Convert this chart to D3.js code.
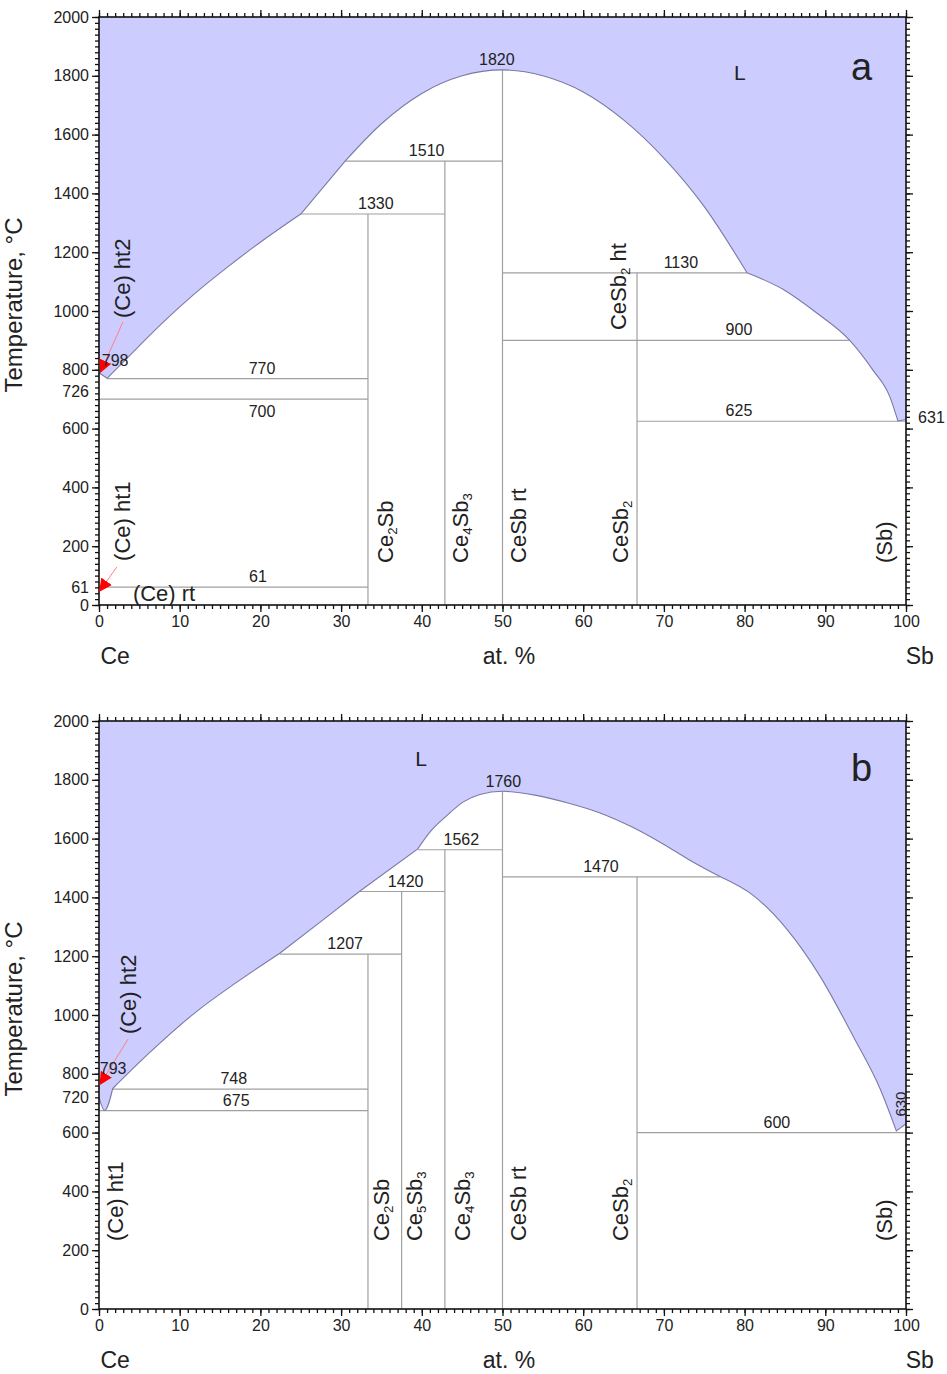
<!DOCTYPE html>
<html>
<head>
<meta charset="utf-8">
<script src="https://cdn.jsdelivr.net/npm/d3@7"></script>
<style>
  body { margin: 0; background: #fff; }
  text { font-family: 'Liberation Sans', Arial, sans-serif; fill: #222; }
</style>
</head>
<body>
<script>
// ---------------- data (at.% Sb, temperature °C) ----------------

// panel a: liquidus pieces, split at the kinks
let liquidusA = [
    [[0, 790], [1.0, 771]],
    [[1.0, 771], [4.9, 879], [7.8, 958], [11.9, 1060], [16, 1151], [20.2, 1238], [25, 1330]],
    [[25, 1330], [30.5, 1510]],
    [[30.5, 1510], [35, 1637], [40, 1740], [45, 1800], [50, 1820], [55, 1800], [60, 1745],
        [65, 1650], [70, 1520], [75, 1355], [80.3, 1130]],
    [[80.3, 1130], [84.8, 1073], [88.9, 994], [93.0, 901], [95.9, 799], [98.0, 708], [99.0, 626]],
    [[99.0, 626], [100, 631]]
];
// horizontal invariants: [from, to, T]
let isothermsA = [[1.0, 33.33, 770], [0, 33.33, 700], [0, 33.33, 61], [25, 42.86, 1330],
    [30.5, 50, 1510], [50, 80.3, 1130], [50, 93.0, 900], [66.67, 100, 625]];
// compound lines: [composition, top T]
let compoundsA = [[33.33, 1330], [42.86, 1510], [50, 1820], [66.67, 1130]];
// temperature labels: [text, composition, T, side]
let numbersA = [["1820", 49.3, 1820, "up"], ["1510", 40.6, 1510, "up"], ["1330", 34.3, 1330, "up"],
    ["1130", 72.1, 1130, "up"], ["900", 79.3, 900, "up"], ["625", 79.3, 625, "up"],
    ["770", 20.2, 770, "up"], ["700", 20.2, 700, "down"], ["61", 19.7, 61, "up"]];
let phasesA = [["(Ce) ht2", 2.85, 976], ["(Ce) ht1", 2.85, 150], ["Ce{2}Sb", 35.4, 143],
    ["Ce{4}Sb{3}", 44.7, 143], ["CeSb rt", 51.9, 143], ["CeSb{2}", 64.6, 143],
    ["(Sb)", 97.3, 143], ["CeSb{2} ht", 64.3, 935]];
let extraTicksA = [[61, "61"], [726, "726"]];

// panel b
let liquidusB = [
    [[0, 720], [0.7, 675], [1.7, 750]],
    [[1.7, 750], [6, 865], [12, 1010], [17, 1110], [22.4, 1210]],
    [[22.4, 1210], [28.4, 1337], [32.3, 1421]],
    [[32.3, 1421], [39.5, 1565]],
    [[39.5, 1565], [41, 1622], [43.1, 1678], [45.1, 1724], [47.2, 1750], [50, 1761], [54, 1748],
        [58, 1722], [62, 1688], [66, 1640], [70, 1580], [73, 1530], [77, 1470]],
    [[77, 1470], [81.1, 1406], [85.2, 1293], [89.3, 1134], [93.5, 925], [96.8, 748], [98.8, 606]],
    [[98.8, 606], [100, 630]]
];
let isothermsB = [[1.7, 33.33, 748], [0, 33.33, 675], [22.4, 37.5, 1207], [32.3, 42.86, 1420],
    [39.5, 50, 1562], [50, 77, 1470], [66.67, 100, 600]];
let compoundsB = [[33.33, 1207], [37.5, 1420], [42.86, 1562], [50, 1761], [66.67, 1470]];
let numbersB = [["1760", 50.1, 1760, "up"], ["1562", 44.9, 1562, "up"], ["1420", 38.0, 1420, "up"],
    ["1207", 30.5, 1207, "up"], ["1470", 62.2, 1470, "up"], ["748", 16.7, 748, "up"],
    ["675", 17.0, 675, "up"], ["600", 84.0, 600, "up"]];
let phasesB = [["(Ce) ht2", 3.6, 935], ["(Ce) ht1", 2.0, 231], ["Ce{2}Sb", 34.9, 231],
    ["Ce{5}Sb{3}", 39.0, 231], ["Ce{4}Sb{3}", 45.0, 231], ["CeSb rt", 51.9, 231],
    ["CeSb{2}", 64.6, 231], ["(Sb)", 97.3, 231]];
let extraTicksB = [[720, "720"]];

let xTicks = d3.range(0, 101, 10);
let yTicks = d3.range(0, 2001, 200);

// ---------------- layout ----------------
let svgWidth = 947;
let svgHeight = 1374;
let left = 99;
let width = 807;
let height = 588;

let svg = d3.select("body").append("svg")
    .attr("width", svgWidth)
    .attr("height", svgHeight);

let defs = svg.append("defs");
defs.append("marker")
    .attr("id", "redhead")
    .attr("viewBox", "0 0 10 10")
    .attr("refX", 9).attr("refY", 5)
    .attr("markerWidth", 13).attr("markerHeight", 13)
    .attr("markerUnits", "userSpaceOnUse")
    .attr("orient", "auto")
    .append("path")
    .attr("d", "M0,0 L10,5 L0,10 Z")
    .attr("fill", "#ff0000");

// write "Ce{2}Sb" style labels with subscript tspans
function richText(sel, label, size) {
    sel.attr("font-size", size);
    let offset = 0;
    label.split(/[{}]/).forEach(function (p, i) {
        if (p === "") return;
        let sub = i % 2 === 1;
        let target = sub ? 4 : 0;
        let ts = sel.append("tspan")
            .attr("font-size", sub ? size * 0.6 : size)
            .text(p);
        if (target !== offset) ts.attr("dy", target - offset);
        offset = target;
    });
}

function drawPanel(top, liquidus, isotherms, compounds, numbers, phases, extraTicks, opts) {
    let x = d3.scaleLinear().domain([0, 100]).range([0, width]);
    let y = d3.scaleLinear().domain([0, 2000]).range([height, 0]);

    let g = svg.append("g").attr("transform", `translate(${left}, ${top})`);

    // liquid region
    let line = d3.line().x(d => x(d[0])).y(d => y(d[1])).curve(d3.curveMonotoneX);
    let curvePath = liquidus.map(function (seg, i) {
        let p = line(seg);
        return i ? "L" + p.slice(1) : p;
    }).join("");
    let fillPath = `M${x(0)},${y(2000)}L` + curvePath.slice(1) + `L${x(100)},${y(2000)}Z`;

    g.append("path")
        .attr("d", fillPath)
        .attr("fill", "#ccccff");

    // invariant lines and compounds
    g.selectAll(".iso").data(isotherms).enter().append("line")
        .attr("x1", d => x(d[0])).attr("x2", d => x(d[1]))
        .attr("y1", d => y(d[2])).attr("y2", d => y(d[2]))
        .attr("stroke", "#a0a0a0").attr("stroke-width", 1.2);

    g.selectAll(".cmp").data(compounds).enter().append("line")
        .attr("x1", d => x(d[0])).attr("x2", d => x(d[0]))
        .attr("y1", y(0)).attr("y2", d => y(d[1]))
        .attr("stroke", "#a0a0a0").attr("stroke-width", 1.2);

    g.append("path")
        .attr("d", curvePath)
        .attr("fill", "none")
        .attr("stroke", "#7a7aa6")
        .attr("stroke-width", 1.1);

    // axes: minor and major ticks on all four sides
    let minorX = d3.range(0, 101, 1);
    let minorY = d3.range(0, 2001, 20);
    let axes = [
        [d3.axisBottom(x).tickValues(minorX).tickSize(4).tickFormat(""), `translate(0,${height})`],
        [d3.axisBottom(x).tickValues(xTicks).tickSize(7).tickPadding(4), `translate(0,${height})`],
        [d3.axisTop(x).tickValues(minorX).tickSize(4).tickFormat(""), null],
        [d3.axisTop(x).tickValues(xTicks).tickSize(7).tickFormat(""), null],
        [d3.axisLeft(y).tickValues(minorY).tickSize(4).tickFormat(""), null],
        [d3.axisLeft(y).tickValues(yTicks).tickSize(7).tickPadding(3).tickFormat(d3.format("d")), null],
        [d3.axisRight(y).tickValues(minorY).tickSize(4).tickFormat(""), `translate(${width},0)`],
        [d3.axisRight(y).tickValues(yTicks).tickSize(7).tickFormat(""), `translate(${width},0)`]
    ];
    axes.forEach(function (a) {
        let ax = g.append("g").call(a[0]);
        if (a[1]) ax.attr("transform", a[1]);
        ax.select(".domain").remove();
        ax.selectAll("line").attr("stroke", "#111").attr("stroke-width", 1.3);
        ax.selectAll("text").attr("font-size", 16).attr("fill", "#222")
            .style("font-family", "'Liberation Sans', Arial, sans-serif");
    });

    g.append("rect")
        .attr("width", width).attr("height", height)
        .attr("fill", "none").attr("stroke", "#111").attr("stroke-width", 1.6);

    // extra tick labels on the temperature axis
    g.selectAll(".xt").data(extraTicks).enter().append("text")
        .attr("x", -10).attr("y", d => y(d[0]))
        .attr("dy", "0.35em")
        .attr("text-anchor", "end")
        .attr("font-size", 16)
        .text(d => d[1]);

    // temperature numbers
    g.selectAll(".num").data(numbers).enter().append("text")
        .attr("x", d => x(d[1]))
        .attr("y", d => d[3] === "up" ? y(d[2]) - 5 : y(d[2]) + 18)
        .attr("text-anchor", "middle")
        .attr("font-size", 16)
        .text(d => d[0]);

    // phase names, rotated (baseline pushed right so the glyphs centre on the anchor)
    phases.forEach(function (p) {
        let t = g.append("text")
            .attr("transform", `translate(${x(p[1]) + 8},${y(p[2])}) rotate(-90)`);
        richText(t, p[0], 22);
    });

    // red pointers to the Ce transitions
    opts.arrows.forEach(function (a) {
        g.append("line")
            .attr("x1", x(a[0][0])).attr("y1", y(a[0][1]))
            .attr("x2", x(a[1][0])).attr("y2", y(a[1][1]))
            .attr("stroke", "#ff7f7f").attr("stroke-width", 1)
            .attr("marker-end", "url(#redhead)");
    });

    opts.notes.forEach(function (n) {
        g.append("text")
            .attr("x", x(n[1])).attr("y", y(n[2]))
            .attr("text-anchor", n[3])
            .attr("font-size", n[4])
            .attr("transform", n[5] ? `rotate(-90,${x(n[1])},${y(n[2])})` : null)
            .attr("dy", n[5] ? "0.35em" : null)
            .text(n[0]);
    });

    // axis titles
    g.append("text")
        .attr("transform", `translate(${-77},${height / 2 - 6}) rotate(-90)`)
        .attr("text-anchor", "middle")
        .attr("font-size", 24)
        .text("Temperature, °C");

    let bottomTitles = [["Ce", 2], ["at. %", 50.8], ["Sb", 101.7]];
    g.selectAll(".bt").data(bottomTitles).enter().append("text")
        .attr("x", d => x(d[1]))
        .attr("y", height + 59)
        .attr("text-anchor", "middle")
        .attr("font-size", 23)
        .text(d => d[0]);
}

drawPanel(17, liquidusA, isothermsA, compoundsA, numbersA, phasesA, extraTicksA, {
    arrows: [[[2.97, 963], [0.2, 793]], [[2.2, 129], [0.1, 48]]],
    notes: [["798", 0.35, 813, "start", 16, false], ["631", 101.5, 619, "start", 16, false],
        ["(Ce) rt", 4.2, 14, "start", 22, false], ["L", 79.4, 1787, "middle", 21, false],
        ["a", 94.5, 1786, "middle", 38, false]]
});

drawPanel(721, liquidusB, isothermsB, compoundsB, numbersB, phasesB, extraTicksB, {
    arrows: [[[3.6, 918], [0.15, 765]]],
    notes: [["793", 0.1, 800, "start", 16, false], ["630", 99.3, 697, "middle", 15, true],
        ["L", 39.9, 1847, "middle", 21, false], ["b", 94.5, 1796, "middle", 38, false]]
});
</script>
</body>
</html>
